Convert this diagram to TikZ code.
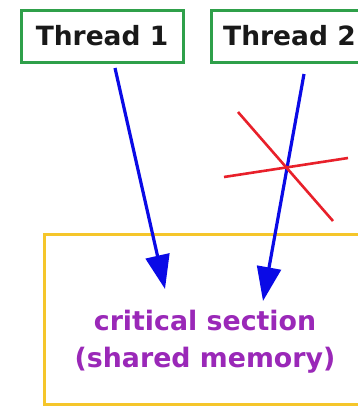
\documentclass[tikz,border=0pt]{standalone}
\usepackage{fontspec}
\setmainfont{DejaVu Sans}
\usetikzlibrary{arrows.meta}
\definecolor{boxgreen}{HTML}{2FA04A}
\definecolor{boxgold}{HTML}{F5C62A}
\definecolor{arrblue}{HTML}{0A0AE6}
\definecolor{txtpurple}{HTML}{9A28B8}
\definecolor{xred}{HTML}{E8202A}
\tikzset{
  threadbox/.style={draw=boxgreen, line width=3pt, inner sep=0pt, minimum height=52pt},
  threadtext/.style={font=\fontsize{26.5}{30}\selectfont\bfseries, text=black!90, inner sep=0pt},
  arr/.style={draw=arrblue, line width=3.2pt, -{Triangle[width=24pt,length=34pt]}},
  crossline/.style={draw=xred, line width=2.6pt},
}
\begin{document}
\begin{tikzpicture}[x=1pt,y=-1pt]
\useasboundingbox (0,0) rectangle (358,408);
\fill[white] (0,0) rectangle (358,408);
\begin{scope}
\clip (0,0) rectangle (358,408);
% shared memory box
\node[draw=boxgold, line width=3pt, minimum width=360pt, minimum height=170pt, anchor=north west] (cs) at (43,233) {};
\node[text=txtpurple, font=\fontsize{26.8}{37}\selectfont\bfseries, align=center, anchor=base] (cstext) at (205,367) {critical section\\(shared memory)};
% threads
\node[threadbox, minimum width=162pt] (t1) at (102,36) {};
\node[threadtext] (t1text) at (t1.center) {Thread 1};
\node[threadbox, minimum width=180pt, anchor=west] (t2) at (210,36) {};
\node[threadtext, anchor=base west] (t2text) at (223,45.5) {Thread 2};
% arrows
\coordinate (a1s) at (115,68);
\coordinate (a1e) at (165,289);
\coordinate (a2s) at (304,74);
\coordinate (a2e) at (263,301);
\draw[arr] (a1s) -- (a1e);
\draw[arr] (a2s) -- (a2e);
% red cross
\coordinate (c1a) at (238,112);
\coordinate (c1b) at (333,221);
\coordinate (c2a) at (224,177);
\coordinate (c2b) at (348,158);
\draw[crossline] (c1a) -- (c1b);
\draw[crossline] (c2a) -- (c2b);
\end{scope}
\end{tikzpicture}
\end{document}
